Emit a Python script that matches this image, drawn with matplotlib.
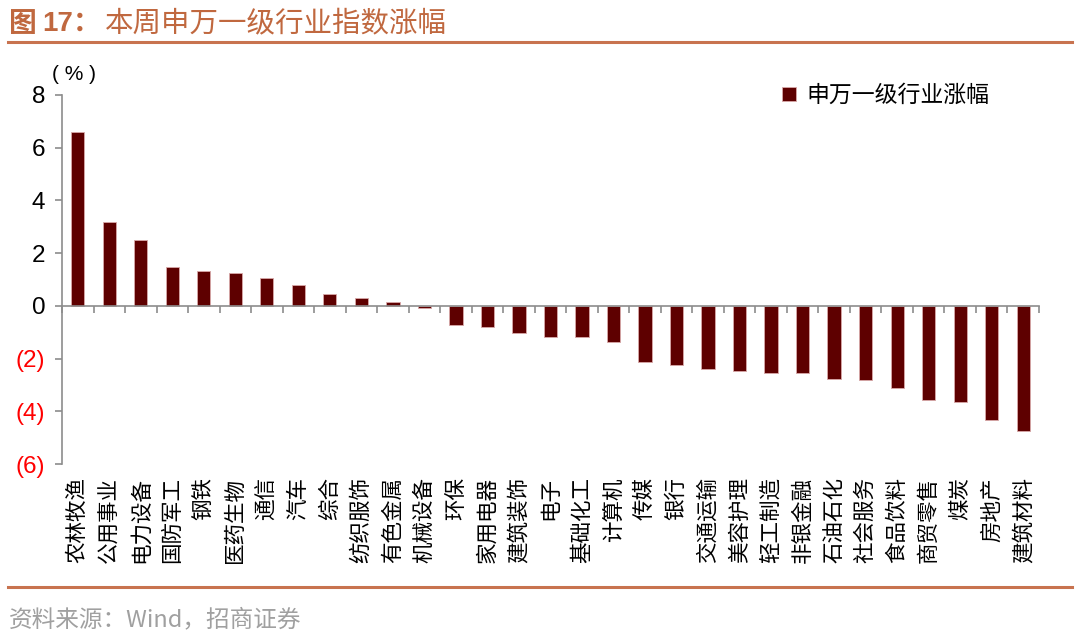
import numpy as np
import matplotlib
matplotlib.use('Agg')
import matplotlib.pyplot as plt
from matplotlib.lines import Line2D

# 数据
hangye = ['农林牧渔', '公用事业', '电力设备', '国防军工', '钢铁', '医药生物', '通信', '汽车',
          '综合', '纺织服饰', '有色金属', '机械设备', '环保', '家用电器', '建筑装饰', '电子',
          '基础化工', '计算机', '传媒', '银行', '交通运输', '美容护理', '轻工制造', '非银金融',
          '石油石化', '社会服务', '食品饮料', '商贸零售', '煤炭', '房地产', '建筑材料']
zhangfu = [6.59, 3.17, 2.49, 1.48, 1.34, 1.24, 1.07, 0.78, 0.45, 0.29, 0.15, -0.10,
           -0.73, -0.80, -1.02, -1.18, -1.18, -1.38, -2.12, -2.26, -2.39, -2.49, -2.55,
           -2.55, -2.78, -2.82, -3.11, -3.58, -3.64, -4.34, -4.75]
y_ticks = [-6, -4, -2, 0, 2, 4, 6, 8]

cjk = ['Noto Sans CJK SC', 'DejaVu Sans']
num = ['Liberation Sans', 'Noto Sans CJK SC', 'DejaVu Sans']
grijs = '#8C8C8C'
lijn_kleur = '#C8734F'
titel_kleur = '#C0683F'

fig = plt.figure(figsize=(10.8, 6.4), dpi=100)
ax = fig.add_axes([0.0574, 0.275, 0.9046, 0.5766])

x = np.arange(len(hangye))
ax.bar(x, zhangfu, width=0.42, color='#5E0000', edgecolor='#D8A8A8', linewidth=0.6,
       label='申万一级行业涨幅')

ax.set_xlim(-0.5, len(hangye) - 0.5)
ax.set_ylim(-6, 8)
ax.set_yticks(y_ticks)
ax.set_yticklabels([str(v) if v >= 0 else '(%d)' % -v for v in y_ticks],
                   family=num, fontsize=17.5)
for lab, v in zip(ax.get_yticklabels(), y_ticks):
    lab.set_color('red' if v < 0 else 'black')

ax.spines['top'].set_visible(False)
ax.spines['right'].set_visible(False)
ax.spines['bottom'].set_position(('data', 0))
for s in ['left', 'bottom']:
    ax.spines[s].set_color(grijs)
    ax.spines[s].set_linewidth(1.2)

ax.set_xticks(np.arange(len(hangye) + 1) - 0.5)
ax.set_xticklabels([])
ax.tick_params(axis='x', direction='out', length=5, width=1.2, color=grijs)
ax.tick_params(axis='y', direction='out', length=5, width=1.2, color=grijs, pad=7)

# verticale categorie-labels onder de grafiek
for i, naam in enumerate(hangye):
    ax.text(i, -0.036, naam, transform=ax.get_xaxis_transform(), rotation=90,
            ha='center', va='top', fontsize=15.5, family=cjk, color='black')

fig.text(0.048, 0.883, '( % )', family=num, fontsize=15, ha='left', va='center')

ax.legend(loc='upper right', bbox_to_anchor=(0.97, 1.085), frameon=False,
          prop={'family': cjk, 'size': 16.5}, handlelength=0.6, handleheight=0.6,
          handletextpad=0.45)

# titel en bron
fig.text(0.008, 0.963, '图', family=cjk, fontsize=20, fontweight='bold',
         color=titel_kleur, ha='left', va='center')
fig.text(0.039, 0.963, '17：', family=num, fontsize=20, fontweight='bold',
         color=titel_kleur, ha='left', va='center')
fig.text(0.097, 0.963, '本周申万一级行业指数涨幅', family=cjk, fontsize=20.5,
         fontweight='medium', color=titel_kleur, ha='left', va='center')
fig.add_artist(Line2D([0.007, 0.993], [0.934, 0.934], transform=fig.transFigure,
                      color=lijn_kleur, linewidth=2.2))
fig.add_artist(Line2D([0.007, 0.993], [0.083, 0.083], transform=fig.transFigure,
                      color=lijn_kleur, linewidth=2.2))
fig.text(0.008, 0.031, '资料来源：Wind，招商证券', family=cjk, fontsize=17,
         color='#A0A0A0', ha='left', va='center')

fig.savefig('out.png', dpi=100)
